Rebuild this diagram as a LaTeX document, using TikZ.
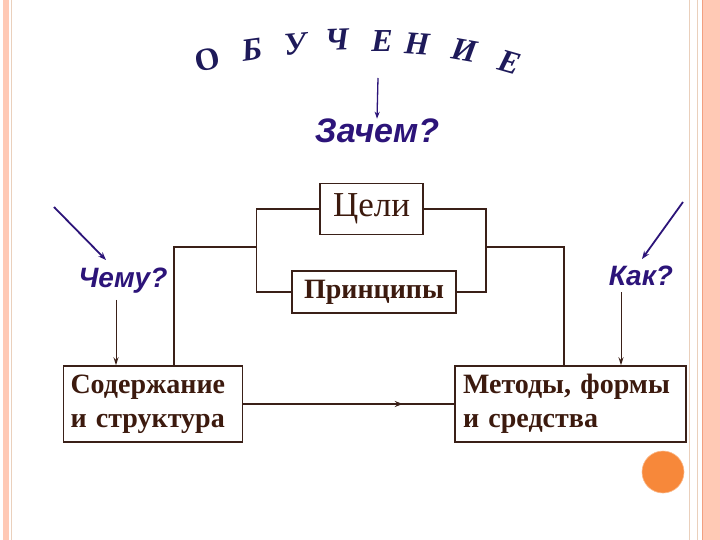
\documentclass[tikz,border=0pt]{standalone}
\usepackage{fontspec}
\setmainfont{Liberation Serif}
\setsansfont{Liberation Sans}
\usetikzlibrary{arrows.meta,decorations.markings}
\definecolor{navy}{HTML}{1E1A5A}
\definecolor{indigo}{HTML}{2C1479}
\definecolor{brownline}{HTML}{3A2018}
\definecolor{browntext}{HTML}{3C1A0E}
\definecolor{salmon}{HTML}{FFC9B5}
\definecolor{salmondark}{HTML}{F2A080}
\definecolor{tanline}{HTML}{EAD0BC}
\definecolor{dotorange}{HTML}{F7883A}
\begin{document}
\begin{tikzpicture}[x=1pt,y=-1pt,
  titlel/.style={text=navy,font=\fontsize{32}{32}\selectfont\itshape\bfseries,inner sep=0},
  question/.style={text=indigo,font=\sffamily\bfseries\itshape\fontsize{28}{28}\selectfont,inner sep=0},
  boxnode/.style={draw=brownline,line width=1.5pt,fill=white,text=browntext},
  link/.style={draw=brownline,line width=1.5pt},
  downarrow/.style={draw=brownline,line width=1pt,-{Stealth[length=8pt,width=5pt]}},
  qarrow/.style={draw=indigo,line width=1.8pt,-{Stealth[length=8pt,width=6pt]}}]
\useasboundingbox (0,0) rectangle (720,540);
\fill[white] (0,0) rectangle (720,540);
% page borders
\fill[salmon] (3,0) rectangle (9,540);
\draw[tanline,line width=0.8pt] (11.5,0) -- (11.5,540);
\draw[tanline,line width=1pt] (689,0) -- (689,540);
\draw[tanline,line width=1pt] (697,0) -- (697,540);
\fill[salmon] (702,0) rectangle (720,540);
\draw[salmondark,line width=1pt] (702.5,0) -- (702.5,540);
% title letters
\node[titlel,rotate=12,font=\fontsize{32}{32}\selectfont\upshape\bfseries] (l1) at (208,60) {О};
\node[titlel,rotate=8] (l2) at (252,50) {Б};
\node[titlel,rotate=5] (l3) at (295,44) {У};
\node[titlel,rotate=2] (l4) at (337,40) {Ч};
\node[titlel,rotate=0] (l5) at (382,41) {Е};
\node[titlel,rotate=-4] (l6) at (417,44) {Н};
\node[titlel,rotate=-10] (l7) at (465,50) {И};
\node[titlel,rotate=-16] (l8) at (510,62) {Е};
% Зачем?
\coordinate (zt) at (378,78);
\node[question,font=\sffamily\bfseries\itshape\fontsize{34}{34}\selectfont] (zachem) at (377,131) {Зачем?};
\draw[draw=indigo,line width=1.3pt,-{Stealth[length=7pt,width=5pt]}] (zt) -- (zachem.north);
% boxes
\node[boxnode,minimum width=103,minimum height=51,font=\fontsize{35}{35}\selectfont] (tseli) at (371.5,209) {Цели};
\node[boxnode,minimum width=164,minimum height=42,font=\fontsize{28}{28}\selectfont\bfseries] (princ) at (374,292) {Принципы};
\node[boxnode,minimum width=178,minimum height=76,text width=165,align=left,inner xsep=7,font=\fontsize{28}{34}\selectfont\bfseries] (soder) at (153,404) {Содержание\\и структура};
\node[boxnode,minimum width=231,minimum height=76,text width=215,align=left,inner xsep=8,font=\fontsize{28}{34}\selectfont\bfseries] (metod) at (570.5,404) {Методы, формы\\и средства};
% brackets
\draw[link] (tseli.west) -- ++(-63,0) |- (princ.west);
\draw[link] (tseli.east) -- ++(62,0) |- (princ.east);
\coordinate (lj) at (257,247);
\coordinate (rj) at (485,247);
\draw[link] (lj) -| ([xshift=21]soder.north);
\draw[link] (rj) -| ([xshift=-6.5]metod.north);
\draw[link,decoration={markings,mark=at position 0.756 with {\arrow{Stealth[length=8pt,width=6pt]}}},postaction={decorate}] (soder.east) -- (metod.west);
% questions
\node[question] (chemu) at (123,281) {Чему?};
\node[question] (kak) at (641,276) {Как?};
\coordinate (cs) at (54,207);
\coordinate (ce) at (106,260);
\draw[qarrow] (cs) -- (ce);
\coordinate (ks) at (683,202);
\coordinate (ke) at (642,259);
\draw[qarrow] (ks) -- (ke);
\draw[downarrow] ([xshift=-7]chemu.south) ++(0,6) -- ([xshift=-37]soder.north);
\draw[downarrow] ([xshift=-20]kak.south) ++(0,6) -- ([xshift=50.5]metod.north);
% orange dot
\fill[dotorange] (663,472) circle (21);
\draw[dotorange!60,line width=0.6pt] (663,472) circle (21);
\end{tikzpicture}
\end{document}
